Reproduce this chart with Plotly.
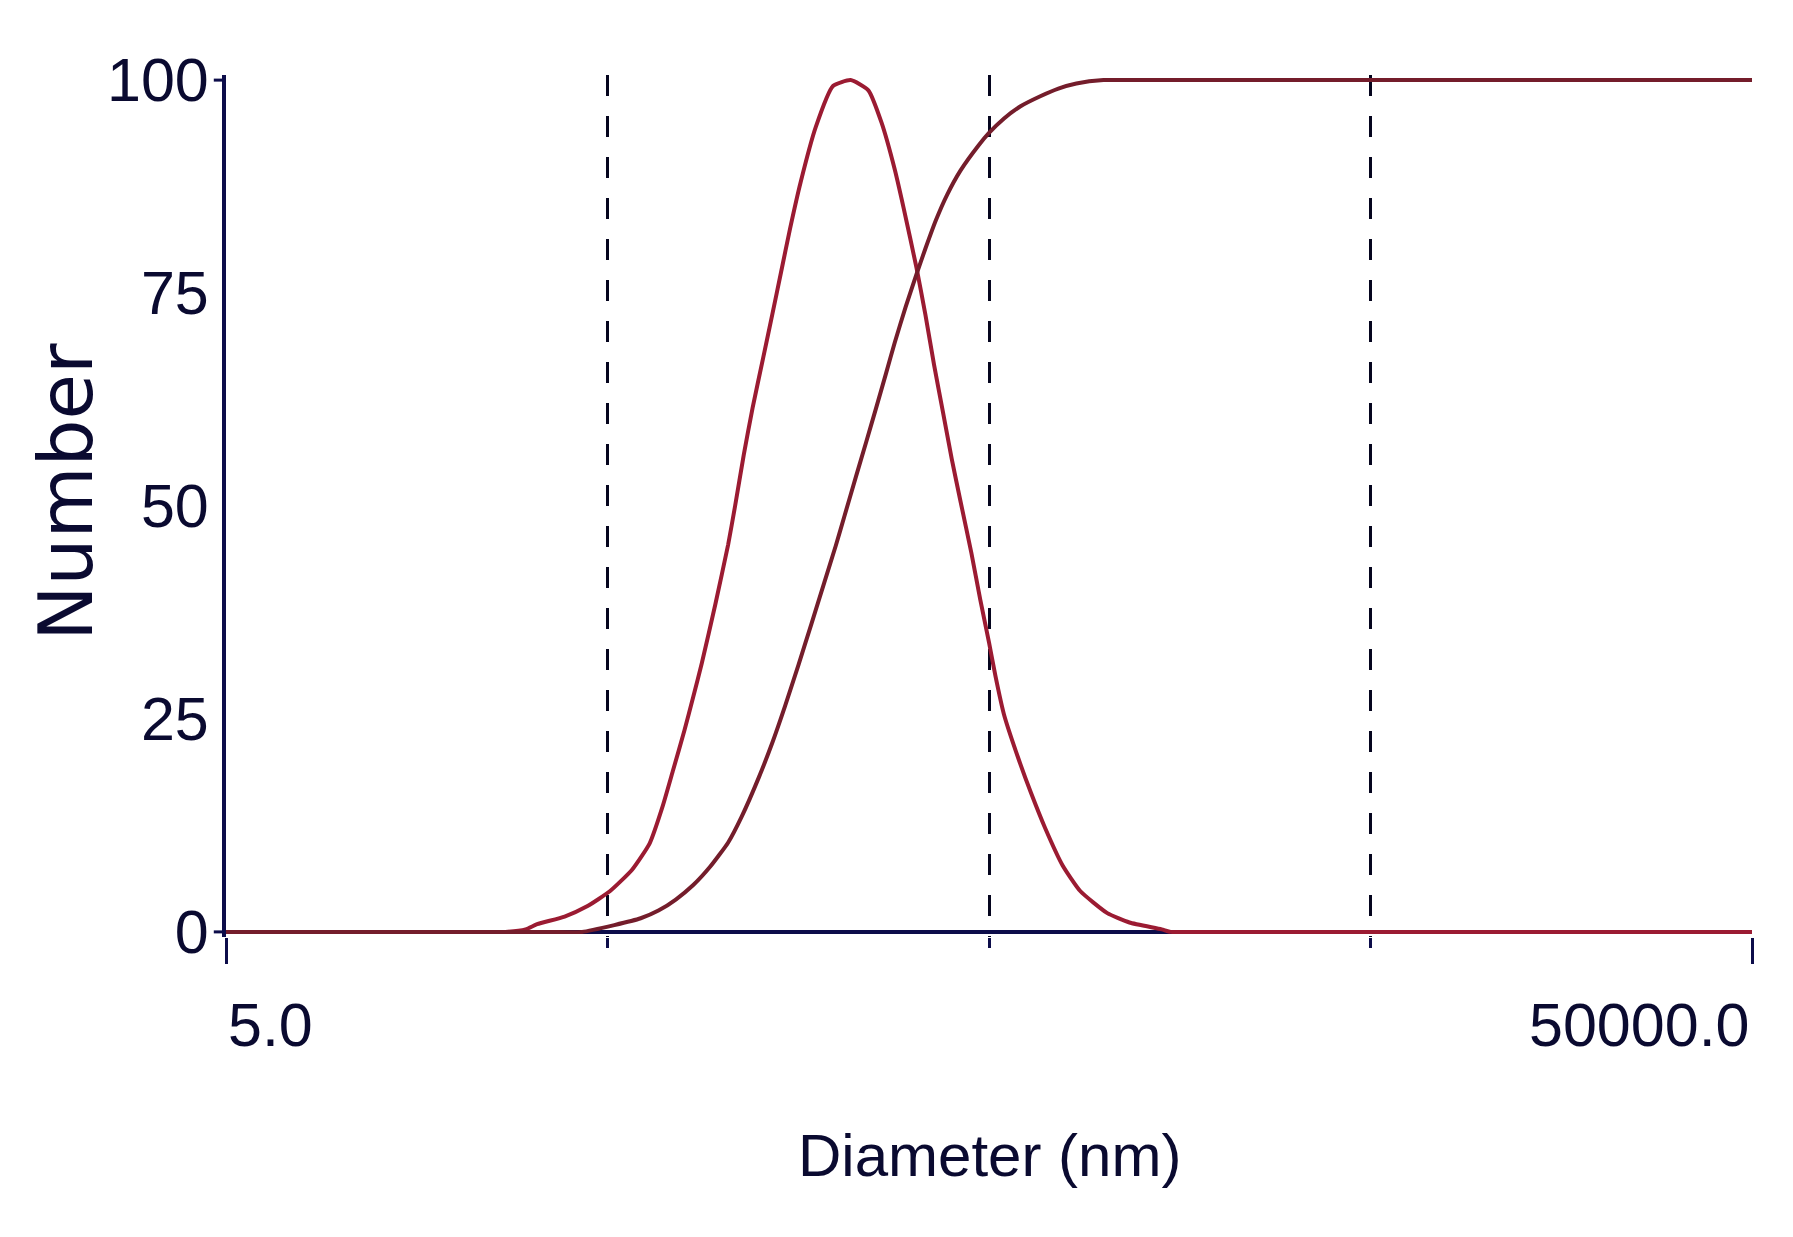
import plotly.graph_objects as go

# size distribution (number, %)
DIST_DIAMETER = [5, 10, 20, 27, 30.5, 32.7, 38.6, 44.2, 50.8, 58.0, 64.5, 69.7, 74.3, 79.6,
                 83.9, 88.3, 95.9, 103.6, 108, 113.8, 120, 128.1, 135.2, 142.6, 150.4, 160.4,
                 175.8, 195, 216.9, 241.4, 261.4, 283.1, 298.6, 322.7, 340.5, 359.1, 378.8,
                 399.4, 421.2, 449.5, 474.3, 500, 520.1, 547.5, 595.5, 644.5, 701.5, 779.8,
                 867.1, 1021, 1167, 1417, 1496, 1700, 2500, 5000, 10000, 20000, 50000]
DIST_NUMBER = [0, 0, 0, 0, 0.3, 0.9, 1.8, 3.0, 4.8, 7.3, 10.4, 14.7, 19.0, 23.7,
               27.6, 31.5, 38.5, 45.5, 50.0, 56.0, 61.5, 67.5, 72.5, 77.5, 82.5, 88.0,
               94.5, 99.3, 100, 98.8, 95.0, 89.5, 85.0, 78.0, 72.5, 66.5, 61.0,
               55.5, 50.5, 44.5, 39.0, 34.0, 30.0, 25.5, 20.5, 16.3, 12.2, 7.8,
               4.8, 2.2, 1.1, 0.3, 0, 0, 0, 0, 0, 0, 0]

# cumulative curve
CUM_DIAMETER = [5, 10, 20, 35, 42.9, 52.1, 61.1, 68.0, 75.5, 83.9, 93.1, 103.6, 112.3, 124.8,
                135.2, 146, 158.2, 171.3, 185, 198.2, 208.9, 223.5, 238.6, 251.8, 268.7,
                283.1, 302.5, 322.7, 340.5, 363.3, 388, 421.2, 468.8, 500, 547.5, 603.4,
                681.4, 760, 847.3, 998, 1300, 2000, 5000, 10000, 20000, 50000]
CUM_NUMBER = [0, 0, 0, 0, 0, 0.8, 1.6, 2.5, 3.8, 5.5, 7.7, 10.5, 13.5, 18.2,
              22.2, 26.5, 31.3, 36.2, 41.0, 45.3, 48.8, 53.3, 57.6, 61.2, 65.6,
              69.2, 73.4, 77.2, 80.2, 83.6, 86.5, 89.4, 92.3, 93.8, 95.5, 96.9,
              98.1, 99.0, 99.6, 100, 100, 100, 100, 100, 100, 100]

Y_TICKS = [0, 25, 50, 75, 100]
X_END_TICKS = [5, 50000]
X_END_LABELS = ["5.0", "50000.0"]
X_GRID = [50, 500, 5000]

NAVY = "#0d0d4a"
TEXT = "#0a0a30"
FONT = "Liberation Sans, Arial, sans-serif"
FS = 61

fig = go.Figure()
fig.add_trace(go.Scatter(x=DIST_DIAMETER, y=DIST_NUMBER, mode="lines",
                         line=dict(color="#9b1b32", width=4, shape="spline", smoothing=0.5)))
fig.add_trace(go.Scatter(x=CUM_DIAMETER, y=CUM_NUMBER, mode="lines",
                         line=dict(color="#741d2b", width=4, shape="spline", smoothing=0.5)))

fig.update_layout(
    width=1793, height=1237,
    margin=dict(l=218, r=49, t=67, b=308),
    plot_bgcolor="white", paper_bgcolor="white",
    showlegend=False,
    font=dict(family=FONT, color=TEXT, size=FS),
    xaxis=dict(
        type="log", automargin=False,
        range=[0.69897, 4.69897],
        tickmode="array", tickvals=X_END_TICKS, ticktext=["", ""],
        ticks="outside", ticklen=26, tickwidth=3, tickcolor=NAVY,
        showline=False, zeroline=False,
        showgrid=True, gridcolor="#05051e", gridwidth=3, griddash="21px,20px",
        minor=dict(tickmode="array", tickvals=X_GRID, ticks="outside", ticklen=10,
                   tickwidth=3, tickcolor=NAVY, showgrid=True, gridcolor="#05051e",
                   gridwidth=3, griddash="21px,20px"),
    ),
    yaxis=dict(
        automargin=False,
        range=[-0.6, 100.6],
        tickmode="array", tickvals=Y_TICKS,
        ticks="", ticklabelstandoff=1,
        tickfont=dict(size=FS, family=FONT, color=TEXT),
        showgrid=False,
        showline=True, linecolor=NAVY, linewidth=4,
        zeroline=True, zerolinecolor=NAVY, zerolinewidth=4,
    ),
)

# small outside ticks on the y axis at 0 and 100
for yv in (Y_TICKS[0], Y_TICKS[-1]):
    fig.add_shape(type="line", xref="x domain", yref="y", x0=-0.008, x1=0, y0=yv, y1=yv,
                  line=dict(color=NAVY, width=3))

# end labels of the x axis
fig.add_annotation(text=X_END_LABELS[0], xref="x domain", x=0, xanchor="left",
                   yref="paper", y=-0.102, yanchor="middle", showarrow=False,
                   font=dict(size=FS, family=FONT, color=TEXT))
fig.add_annotation(text=X_END_LABELS[1], xref="x domain", x=1, xanchor="right",
                   yref="paper", y=-0.102, yanchor="middle", showarrow=False,
                   font=dict(size=FS, family=FONT, color=TEXT))

# axis titles
fig.add_annotation(text="Diameter (nm)", xref="paper", x=0.5, xanchor="center",
                   yref="paper", y=-0.254, yanchor="middle", showarrow=False,
                   font=dict(size=60, family=FONT, color=TEXT))
fig.add_annotation(text="Number", textangle=-90, xref="paper", x=-0.1045, xanchor="center",
                   yref="paper", y=0.516, yanchor="middle", showarrow=False,
                   font=dict(size=74, family="DejaVu Sans, sans-serif", color=TEXT))

fig.write_html("out.html")
